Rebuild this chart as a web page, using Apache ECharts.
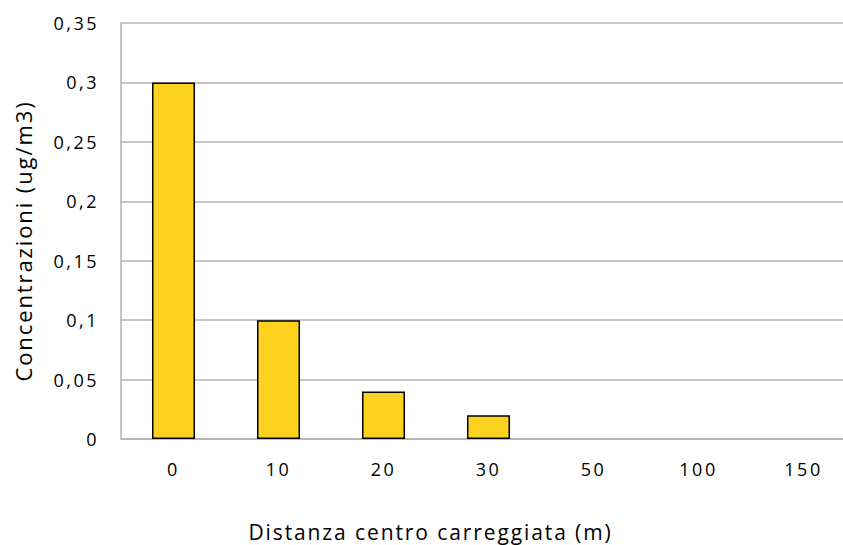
<!DOCTYPE html>
<html>
<head>
<meta charset="utf-8">
<script src="https://cdn.jsdelivr.net/npm/echarts@6/dist/echarts.min.js"></script>
<style>
html, body { margin: 0; padding: 0; background: #fff; overflow: hidden; }
#chart { width: 843px; height: 545px; }
/* the reference text is widely spaced */
#chart text { letter-spacing: 2.5px; }
#chart text[style*="21px"] { letter-spacing: 1.9px; }
#chart text[style*="22px"] { letter-spacing: 1.9px; }
</style>
</head>
<body>
<div id="chart"></div>
<script>
var distanze = ['0', '10', '20', '30', '50', '100', '150'];
var concentrazioni = [0.3, 0.1, 0.04, 0.02, 0, 0, 0];
var yTicks = [0, 0.05, 0.1, 0.15, 0.2, 0.25, 0.3, 0.35];

var chart = echarts.init(document.getElementById('chart'), null, { renderer: 'svg' });

var option = {
	animation: false,
	textStyle: { fontFamily: 'Open Sans' },
	// the original plot runs past the right edge of the picture
	grid: { left: 121, right: -13, top: 23, bottom: 106, outerBoundsMode: 'none', containLabel: false },
	xAxis: {
		type: 'category',
		data: distanze,
		name: 'Distanza centro carreggiata (m)',
		nameLocation: 'middle',
		nameGap: 82,
		nameTextStyle: { color: '#000', fontSize: 21, padding: [0, 116, 0, 0] },
		axisLine: { lineStyle: { color: '#b3b3b3', width: 1.5 } },
		axisTick: { show: false },
		axisLabel: { color: '#000', fontSize: 18, margin: 21 }
	},
	yAxis: {
		type: 'value',
		min: 0,
		max: 0.35,
		interval: 0.05,
		name: 'Concentrazioni (ug/m3)',
		nameLocation: 'middle',
		nameGap: 87,
		nameTextStyle: { color: '#000', fontSize: 22, padding: [0, 20, 0, 0] },
		axisLine: { show: true, lineStyle: { color: '#b3b3b3', width: 1.5 } },
		axisTick: { show: false },
		splitLine: { lineStyle: { color: '#b3b3b3', width: 1.5 } },
		axisLabel: {
			color: '#000',
			fontSize: 18,
			margin: 22,
			formatter: function (v) {
				var t = yTicks.find(function (k) { return Math.abs(k - v) < 1e-9; });
				return String(+((t !== undefined ? t : v).toFixed(2))).replace('.', ',');
			}
		}
	},
	series: [{
		type: 'bar',
		barWidth: 43,
		itemStyle: { color: '#fdd320', borderColor: '#000', borderWidth: 1.5 },
		data: concentrazioni.map(function (v) {
			// empty categories show no outline at all
			return v > 0 ? v : { value: v, itemStyle: { borderWidth: 0 } };
		})
	}]
};
chart.setOption(option);
</script>
</body>
</html>
